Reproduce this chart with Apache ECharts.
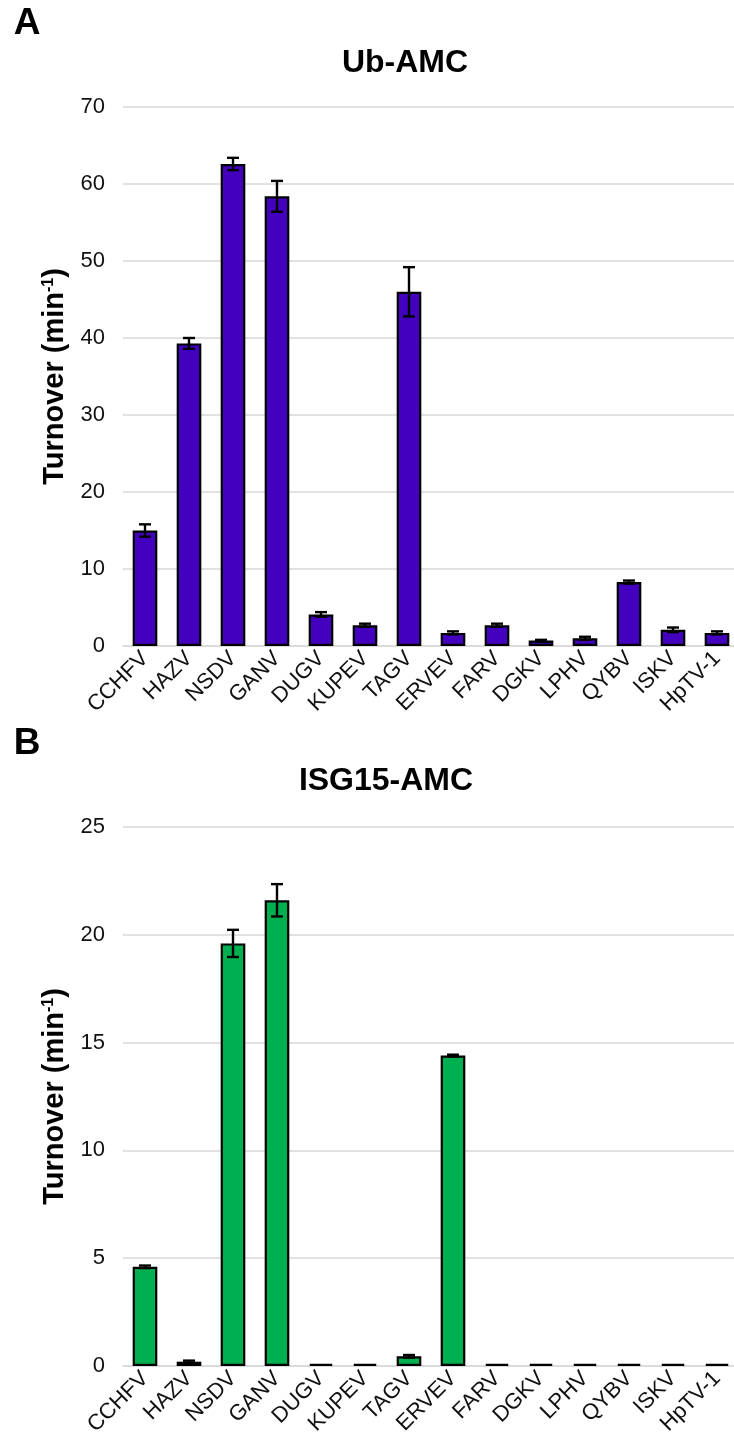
<!DOCTYPE html>
<html>
<head>
<meta charset="utf-8">
<script src="https://cdn.jsdelivr.net/npm/echarts@6/dist/echarts.min.js"></script>
<style>
  html, body { margin: 0; padding: 0; background: #fff; }
  #main { width: 734px; height: 1443px; }
</style>
</head>
<body>
<div id="main"></div>
<script>
// virus names on the x axis
const categories = ['CCHFV', 'HAZV', 'NSDV', 'GANV', 'DUGV', 'KUPEV', 'TAGV', 'ERVEV', 'FARV', 'DGKV', 'LPHV', 'QYBV', 'ISKV', 'HpTV-1'];

// panel A: Ub-AMC turnover and error
const ubValues = [15.0, 39.3, 62.6, 58.4, 4.1, 2.7, 46.0, 1.7, 2.7, 0.7, 1.0, 8.3, 2.1, 1.7];
const ubErrors = [0.8, 0.7, 0.8, 2.0, 0.3, 0.2, 3.2, 0.2, 0.2, 0.1, 0.2, 0.2, 0.3, 0.2];

// panel B: ISG15-AMC turnover and error
const isgValues = [4.6, 0.2, 19.6, 21.6, 0.1, 0.1, 0.45, 14.4, 0.1, 0.1, 0.1, 0.1, 0.1, 0.1];
const isgErrors = [0.06, 0.05, 0.63, 0.75, 0, 0, 0.06, 0.04, 0, 0, 0, 0, 0, 0];

const ubTicks = { min: 0, max: 70, interval: 10 };
const isgTicks = { min: 0, max: 25, interval: 5 };

var myChart = echarts.init(document.getElementById('main'));

const font = "'Liberation Sans', Arial, sans-serif";

function xAxisOf(idx) {
  return {
    type: 'category',
    gridIndex: idx,
    data: categories,
    axisLine: { show: true, lineStyle: { color: '#d9d9d9', width: 1.5 } },
    axisTick: { show: false },
    axisLabel: { interval: 0, rotate: 45, fontSize: 22, color: '#111', fontFamily: font, margin: 9 }
  };
}

function yAxisOf(idx, ticks) {
  return {
    type: 'value',
    gridIndex: idx,
    min: ticks.min,
    max: ticks.max,
    interval: ticks.interval,
    axisLine: { show: false },
    axisTick: { show: false },
    splitLine: { lineStyle: { color: '#d9d9d9', width: 1.5 } },
    axisLabel: { fontSize: 22, color: '#111', fontFamily: font, margin: 18 },
    name: 'Turnover (min{sup|-1})',
    nameLocation: 'middle',
    nameGap: 50,
    nameTextStyle: {
      fontSize: 29, fontWeight: 'bold', color: '#000', fontFamily: font,
      rich: { sup: { fontSize: 16, fontWeight: 'bold', color: '#000', fontFamily: font, verticalAlign: 'top', padding: [0, 0, 10, 0] } }
    }
  };
}

function barSeries(idx, values, color) {
  return {
    type: 'bar',
    xAxisIndex: idx,
    yAxisIndex: idx,
    barWidth: '56%',
    data: values,
    itemStyle: { color: color, borderColor: '#000', borderWidth: 2.2 },
    z: 2
  };
}

// error bars drawn as custom series
function errorSeries(idx, values, errors) {
  return {
    type: 'custom',
    xAxisIndex: idx,
    yAxisIndex: idx,
    data: values.map((v, i) => [i, v - errors[i], v + errors[i]]),
    encode: { x: 0, y: [1, 2] },
    z: 5,
    renderItem: function (params, api) {
      const x = api.value(0);
      if (api.value(2) - api.value(1) <= 0) return null;
      const lo = api.coord([x, api.value(1)]);
      const hi = api.coord([x, api.value(2)]);
      const w = 6;
      const st = { stroke: '#000', lineWidth: 2.4 };
      return {
        type: 'group',
        children: [
          { type: 'line', shape: { x1: lo[0], y1: lo[1], x2: hi[0], y2: hi[1] }, style: st },
          { type: 'line', shape: { x1: hi[0] - w, y1: hi[1], x2: hi[0] + w, y2: hi[1] }, style: st },
          { type: 'line', shape: { x1: lo[0] - w, y1: lo[1], x2: lo[0] + w, y2: lo[1] }, style: st }
        ]
      };
    }
  };
}

function label(text, x, y, size) {
  return {
    type: 'text', x: x, y: y,
    style: { text: text, font: 'bold ' + size + 'px ' + font, fill: '#000', textAlign: 'center', textVerticalAlign: 'middle' }
  };
}

let option = {
  animation: false,
  backgroundColor: '#fff',
  grid: [
    { left: 123, right: -5, top: 107, height: 539, outerBoundsMode: 'none' },
    { left: 123, right: -5, top: 827, height: 539, outerBoundsMode: 'none' }
  ],
  xAxis: [xAxisOf(0), xAxisOf(1)],
  yAxis: [yAxisOf(0, ubTicks), yAxisOf(1, isgTicks)],
  series: [
    barSeries(0, ubValues, '#4300BE'),
    errorSeries(0, ubValues, ubErrors),
    barSeries(1, isgValues, '#00B050'),
    errorSeries(1, isgValues, isgErrors)
  ],
  graphic: [
    label('A', 27, 24, 37),
    label('B', 27, 744, 37),
    label('Ub-AMC', 405, 63, 32),
    label('ISG15-AMC', 386, 781, 32)
  ]
};
myChart.setOption(option);
</script>
</body>
</html>
